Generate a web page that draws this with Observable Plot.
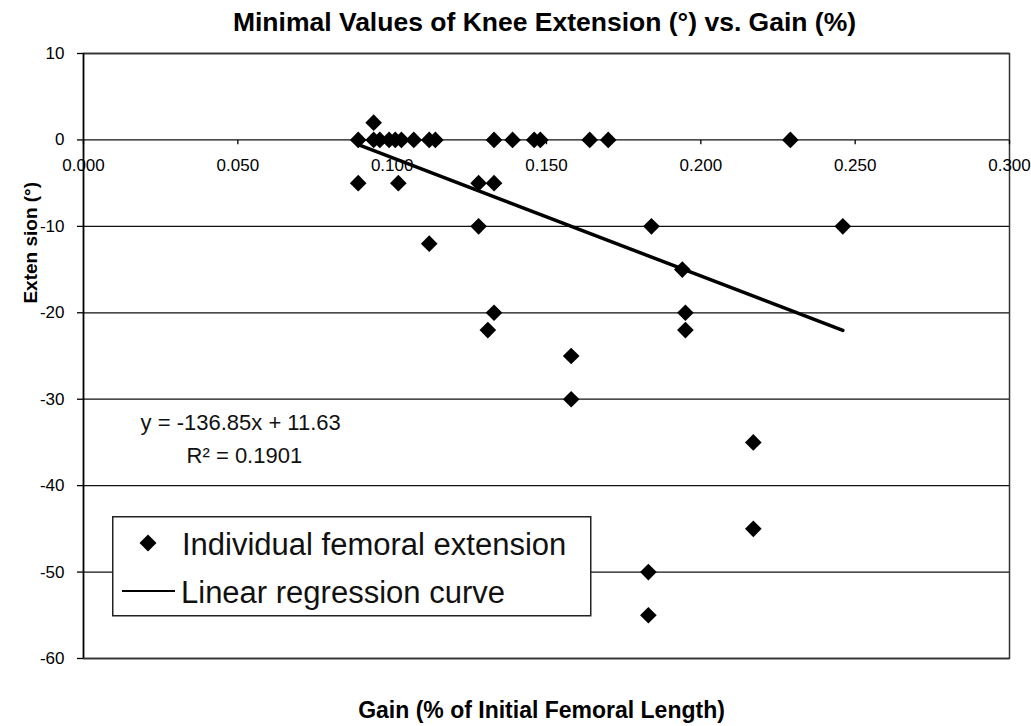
<!DOCTYPE html>
<html>
<head>
<meta charset="utf-8">
<script src="https://cdn.jsdelivr.net/npm/d3@7"></script>
<script src="https://cdn.jsdelivr.net/npm/@observablehq/plot@0.6"></script>
<style>
  html, body { margin: 0; padding: 0; background: #fff; }
  #wrap { position: relative; width: 1031px; height: 726px; font-family: "Liberation Sans", Arial, sans-serif; }
  #legend { position: absolute; left: 112px; top: 516px; }
</style>
</head>
<body>
<div id="wrap"></div>
<script>
// ---- data ----
const gain = [0.089, 0.094, 0.094, 0.096, 0.099, 0.101, 0.103, 0.107, 0.112, 0.114,
              0.133, 0.139, 0.146, 0.148, 0.164, 0.170, 0.229,
              0.089, 0.102, 0.128, 0.133,
              0.128, 0.184, 0.246, 0.112, 0.194,
              0.133, 0.131, 0.195, 0.195,
              0.158, 0.158, 0.217, 0.217, 0.183, 0.183];
const extension = [0, 2, 0, 0, 0, 0, 0, 0, 0, 0,
                   0, 0, 0, 0, 0, 0, 0,
                   -5, -5, -5, -5,
                   -10, -10, -10, -12, -15,
                   -20, -22, -20, -22,
                   -25, -30, -35, -45, -50, -55];
const xTicks = [0, 0.05, 0.10, 0.15, 0.20, 0.25, 0.30];
const yTicks = [-60, -50, -40, -30, -20, -10, 0, 10];
const regSlope = -136.85;
const regIntercept = 11.63;
const regR2 = 0.1901;
const titleText = "Minimal Values of Knee Extension (°) vs. Gain (%)";
const xLabel = "Gain (% of Initial Femoral Length)";
const yLabel = "Exten sion (°)";
const legendLabels = ["Individual femoral extension", "Linear regression curve"];

// ---- derived tables ----
const points = gain.map((g, i) => ({gain: g, ext: extension[i]}));
const [gMin, gMax] = d3.extent(gain);
const regLine = [gMin, gMax].map(g => ({gain: g, ext: regSlope * g + regIntercept}));
const eqLines = [
  {t: `y = ${regSlope}x + ${regIntercept}`, x: 0.0185, y: -32.7},
  {t: `R² = ${regR2}`, x: 0.0334, y: -36.6}
];

const font = "Liberation Sans, Arial, sans-serif";

const chart = Plot.plot({
  width: 1031,
  height: 726,
  marginTop: 53,
  marginRight: 22,
  marginBottom: 68,
  marginLeft: 83,
  style: {fontFamily: font, background: "#fff", color: "#000"},
  x: {domain: [0, 0.3], axis: null},
  y: {domain: [-60, 10], axis: null},
  marks: [
    Plot.ruleY(yTicks, {stroke: "#111", strokeWidth: 1.3}),
    Plot.frame({stroke: "#333", strokeWidth: 1.5}),
    Plot.ruleX([0], {stroke: "#000", strokeWidth: 1.5}),
    Plot.axisY({ticks: yTicks, tickSize: 6, tickPadding: 13, tickFormat: d => String(d),
                fontSize: 17, label: null, stroke: "#000", strokeWidth: 1.3}),
    // horizontal axis drawn at y = 0
    Plot.link(xTicks, {x1: d => d, x2: d => d, y1: 0, y2: -0.5, stroke: "#000", strokeWidth: 1.3}),
    Plot.text(xTicks, {x: d => d, y: 0, dy: 26, text: d => d3.format(".3f")(d), fontSize: 17, fill: "#000"}),
    // regression line
    Plot.line(regLine, {x: "gain", y: "ext", stroke: "#000", strokeWidth: 3.5}),
    // data
    Plot.dot(points, {x: "gain", y: "ext", symbol: "diamond2", r: 7.5, fill: "#000", stroke: "none"}),
    // equation
    Plot.text(eqLines, {x: "x", y: "y", text: "t", textAnchor: "start", fontSize: 22, fill: "#111"}),
    // titles
    Plot.text([titleText], {frameAnchor: "top", lineAnchor: "middle", textAnchor: "middle", dy: -31, dx: -2,
                            fontSize: 26.5, fontWeight: "bold", fill: "#000"}),
    Plot.text([xLabel], {frameAnchor: "bottom", lineAnchor: "middle", textAnchor: "middle", dy: 52, dx: -5,
                         fontSize: 23, fontWeight: "bold", fill: "#000"}),
    Plot.text([yLabel], {frameAnchor: "left", lineAnchor: "middle", textAnchor: "middle", y: () => -11.9, dx: -53,
                         rotate: -90, fontSize: 19, fontWeight: "bold", fill: "#000"})
  ]
});

const wrap = document.getElementById("wrap");
wrap.appendChild(chart);

// legend box
const NS = "http://www.w3.org/2000/svg";
const leg = document.createElementNS(NS, "svg");
leg.setAttribute("id", "legend");
leg.setAttribute("width", 480);
leg.setAttribute("height", 101);
leg.innerHTML = `
  <rect x="0.75" y="0.75" width="478" height="99" fill="#fff" stroke="#222" stroke-width="1.5"/>
  <path d="M36,18.5 L44.5,27 L36,35.5 L27.5,27 Z" fill="#000"/>
  <line x1="10" x2="63" y1="75" y2="75" stroke="#000" stroke-width="2"/>
  <text x="70" y="39" font-size="31" font-family="${font}" fill="#111">${legendLabels[0]}</text>
  <text x="69" y="87" font-size="31" font-family="${font}" fill="#111">${legendLabels[1]}</text>
`;
wrap.appendChild(leg);
</script>
</body>
</html>
